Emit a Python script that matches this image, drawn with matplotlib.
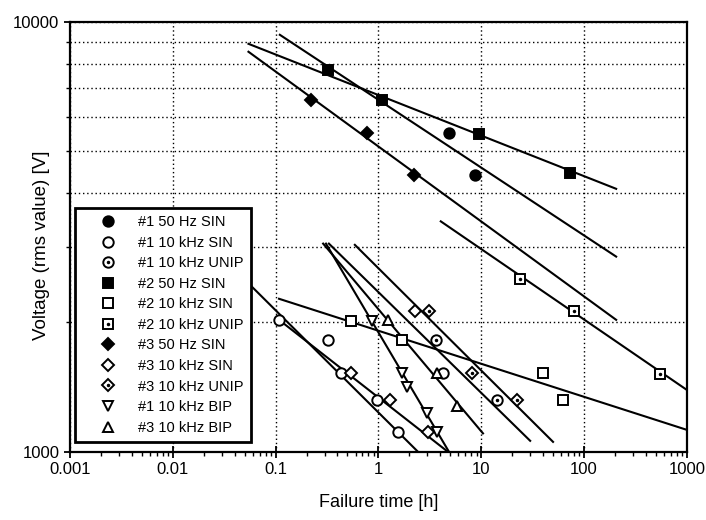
import numpy as np
import matplotlib.pyplot as plt
from matplotlib.legend_handler import HandlerTuple
from matplotlib.ticker import LogLocator, FixedLocator, NullFormatter

plt.rcParams['font.family'] = ['Liberation Sans', 'DejaVu Sans']

# 数据：失效时间 [h] 与电压 [V]
labels = ['#1 50 Hz SIN', '#1 10 kHz SIN', '#1 10 kHz UNIP',
          '#2 50 Hz SIN', '#2 10 kHz SIN', '#2 10 kHz UNIP',
          '#3 50 Hz SIN', '#3 10 kHz SIN', '#3 10 kHz UNIP',
          '#1 10 kHz BIP', '#3 10 kHz BIP']

s1_50_x = [4.86, 8.7]
s1_50_y = [5500, 4410]
s1_sin_x = [0.108, 0.321, 0.432, 0.962, 1.55, 4.22]
s1_sin_y = [2028, 1820, 1527, 1321, 1114, 1527]
s1_unip_x = [3.61, 14.3]
s1_unip_y = [1820, 1321]
s2_50_x = [0.32, 1.08, 9.5, 73]
s2_50_y = [7730, 6590, 5495, 4460]
s2_sin_x = [0.538, 1.69, 39.9, 62.5]
s2_sin_y = [2018, 1820, 1527, 1321]
s2_unip_x = [23.8, 80, 548]
s2_unip_y = [2523, 2128, 1517]
s3_50_x = [0.221, 0.774, 2.22]
s3_50_y = [6590, 5520, 4410]
s3_sin_x = [0.541, 1.30, 3.02, 2.27]
s3_sin_y = [1527, 1321, 1114, 2128]
s3_unip_x = [3.13, 8.15, 22.3]
s3_unip_y = [2128, 1527, 1321]
s1_bip_x = [0.861, 1.69, 1.88, 2.95, 3.74]
s1_bip_y = [2018, 1527, 1419, 1233, 1114]
s3_bip_x = [1.23, 3.69, 5.78]
s3_bip_y = [2028, 1527, 1279]

# 拟合直线的两个端点 (x0, x1, y0, y1)
fit_1_50 = [0.11, 205, 9330, 2845]
fit_1_sin = [0.059, 2.43, 2420, 1000]
fit_1_unip = [0.33, 29.9, 3050, 1061]
fit_2_50 = [0.0545, 205, 8890, 4090]
fit_2_sin = [0.108, 1000, 2270, 1125]
fit_2_unip = [4.04, 1000, 3436, 1393]
fit_3_50 = [0.0545, 205, 8520, 2028]
fit_3_sin = [0.108, 4.75, 2028, 1000]
fit_3_unip = [0.59, 49.9, 3030, 1055]
fit_1_bip = [0.309, 4.86, 3050, 1000]
fit_3_bip = [0.29, 10.4, 3050, 1104]

fig, ax = plt.subplots(figsize=(7.06, 5.2), dpi=100)
fig.subplots_adjust(left=0.099, right=0.973, top=0.958, bottom=0.131)

for f in [fit_1_50, fit_1_sin, fit_1_unip, fit_2_50, fit_2_sin, fit_2_unip,
          fit_3_50, fit_3_sin, fit_3_unip, fit_1_bip, fit_3_bip]:
    ax.plot(f[:2], f[2:], color='black', lw=1.5, zorder=2)

ms = 7.5
mew = 1.4
series = [
    (s1_50_x, s1_50_y, 'o', True, False),
    (s1_sin_x, s1_sin_y, 'o', False, False),
    (s1_unip_x, s1_unip_y, 'o', False, True),
    (s2_50_x, s2_50_y, 's', True, False),
    (s2_sin_x, s2_sin_y, 's', False, False),
    (s2_unip_x, s2_unip_y, 's', False, True),
    (s3_50_x, s3_50_y, 'D', True, False),
    (s3_sin_x, s3_sin_y, 'D', False, False),
    (s3_unip_x, s3_unip_y, 'D', False, True),
    (s1_bip_x, s1_bip_y, 'v', False, False),
    (s3_bip_x, s3_bip_y, '^', False, False),
]

handles = []
for (x, y, m, filled, dot) in series:
    size = 6 if m == 'D' else ms
    h, = ax.plot(x, y, ls='none', marker=m, markersize=size,
                 markerfacecolor='black' if filled else 'white',
                 markeredgecolor='black', markeredgewidth=mew, zorder=3)
    if dot:
        d, = ax.plot(x, y, ls='none', marker='.', markersize=3,
                     color='black', zorder=4)
        handles.append((h, d))
    else:
        handles.append(h)

ax.set_xscale('log')
ax.set_yscale('log')
ax.set_xlim(0.001, 1000)
ax.set_ylim(1000, 10000)

ax.xaxis.set_major_locator(FixedLocator([0.001, 0.01, 0.1, 1, 10, 100, 1000]))
ax.set_xticklabels(['0.001', '0.01', '0.1', '1', '10', '100', '1000'])
ax.xaxis.set_minor_locator(LogLocator(base=10, subs=np.arange(2, 10), numticks=20))
ax.xaxis.set_minor_formatter(NullFormatter())
ax.yaxis.set_major_locator(FixedLocator([1000, 10000]))
ax.set_yticklabels(['1000', '10000'])
ax.yaxis.set_minor_locator(LogLocator(base=10, subs=np.arange(2, 10), numticks=20))
ax.yaxis.set_minor_formatter(NullFormatter())

ax.grid(True, which='major', axis='x', color='black', ls=(0, (1, 2)), lw=1.0)
ax.grid(True, which='both', axis='y', color='black', ls=(0, (1, 2)), lw=1.0)

ax.tick_params(which='major', direction='inout', length=8, width=1.3, labelsize=12)
ax.tick_params(which='minor', direction='out', length=3, width=1.0)
for sp in ax.spines.values():
    sp.set_linewidth(1.6)

ax.set_xlabel('Failure time [h]', fontsize=13, labelpad=12)
ax.set_ylabel('Voltage (rms value) [V]', fontsize=13.5)
ax.yaxis.set_label_coords(-0.032, 0.48)

leg = ax.legend(handles, labels, loc='lower left', bbox_to_anchor=(0.009, 0.023),
                borderaxespad=0, fontsize=10.5, frameon=True, fancybox=False,
                framealpha=1, edgecolor='black', labelspacing=0.45,
                handletextpad=0.4, handlelength=3.4, borderpad=0.5,
                handler_map={tuple: HandlerTuple(ndivide=1)})
leg.get_frame().set_linewidth(2.0)

fig.savefig('out.png', dpi=100)
